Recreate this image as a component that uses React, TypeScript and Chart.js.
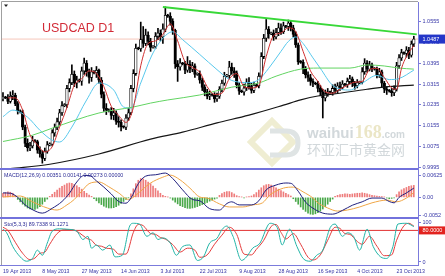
import { useEffect, useRef } from 'react';
import { Chart, registerables } from 'chart.js';

Chart.register(...registerables);

const FONT = "'Liberation Sans', Arial, sans-serif";

// ---------------- data ----------------
const opens = [
  1.0258, 1.0265, 1.0262, 1.0248, 1.0268, 1.0272, 1.0240, 1.0212, 1.0208, 1.0150, 1.0088, 1.0070,
  1.0078, 1.0098, 1.0095, 1.0062, 1.0048, 1.0030, 1.0058, 1.0082, 1.0085, 1.0128, 1.0148, 1.0170,
  1.0205, 1.0232, 1.0236, 1.0298, 1.0320, 1.0352, 1.0318, 1.0330, 1.0326, 1.0365, 1.0395, 1.0360,
  1.0340, 1.0362, 1.0358, 1.0368, 1.0330, 1.0275, 1.0222, 1.0215, 1.0212, 1.0195, 1.0205, 1.0172,
  1.0168, 1.0152, 1.0150, 1.0185, 1.0205, 1.0298, 1.0355, 1.0452, 1.0450, 1.0485, 1.0470, 1.0502,
  1.0478, 1.0455, 1.0458, 1.0498, 1.0510, 1.0495, 1.0525, 1.0578, 1.0575, 1.0555, 1.0520, 1.0392,
  1.0380, 1.0395, 1.0392, 1.0368, 1.0390, 1.0372, 1.0385, 1.0352, 1.0355, 1.0330, 1.0302, 1.0285,
  1.0268, 1.0275, 1.0272, 1.0258, 1.0268, 1.0295, 1.0318, 1.0345, 1.0348, 1.0380, 1.0365, 1.0358,
  1.0312, 1.0288, 1.0285, 1.0300, 1.0322, 1.0305, 1.0290, 1.0310, 1.0308, 1.0345, 1.0420, 1.0490,
  1.0525, 1.0508, 1.0510, 1.0495, 1.0512, 1.0530, 1.0515, 1.0538, 1.0535, 1.0548, 1.0530, 1.0505,
  1.0465, 1.0400, 1.0398, 1.0372, 1.0350, 1.0340, 1.0325, 1.0318, 1.0315, 1.0298, 1.0285, 1.0262,
  1.0278, 1.0285, 1.0283, 1.0298, 1.0290, 1.0308, 1.0302, 1.0315, 1.0312, 1.0325, 1.0335, 1.0318,
  1.0308, 1.0320, 1.0322, 1.0362, 1.0395, 1.0372, 1.0388, 1.0375, 1.0372, 1.0350, 1.0362, 1.0318,
  1.0295, 1.0290, 1.0288, 1.0282, 1.0295, 1.0385, 1.0415, 1.0435, 1.0432, 1.0445, 1.0425, 1.0468,
];
const highs = [
  1.0282, 1.0268, 1.0275, 1.0285, 1.0290, 1.0280, 1.0248, 1.0216, 1.0215, 1.0158, 1.0105, 1.0092,
  1.0115, 1.0102, 1.0100, 1.0075, 1.0060, 1.0070, 1.0095, 1.0090, 1.0140, 1.0162, 1.0185, 1.0218,
  1.0248, 1.0240, 1.0310, 1.0335, 1.0388, 1.0365, 1.0345, 1.0334, 1.0380, 1.0414, 1.0405, 1.0372,
  1.0378, 1.0366, 1.0382, 1.0372, 1.0340, 1.0285, 1.0240, 1.0220, 1.0225, 1.0222, 1.0212, 1.0190,
  1.0178, 1.0155, 1.0198, 1.0222, 1.0310, 1.0370, 1.0468, 1.0456, 1.0552, 1.0535, 1.0525, 1.0515,
  1.0490, 1.0462, 1.0512, 1.0528, 1.0522, 1.0545, 1.0610, 1.0582, 1.0588, 1.0565, 1.0525, 1.0405,
  1.0412, 1.0398, 1.0402, 1.0420, 1.0405, 1.0398, 1.0392, 1.0358, 1.0365, 1.0338, 1.0312, 1.0295,
  1.0288, 1.0278, 1.0282, 1.0280, 1.0305, 1.0330, 1.0360, 1.0352, 1.0402, 1.0395, 1.0378, 1.0365,
  1.0320, 1.0292, 1.0315, 1.0335, 1.0340, 1.0318, 1.0322, 1.0314, 1.0358, 1.0435, 1.0505, 1.0562,
  1.0535, 1.0514, 1.0522, 1.0528, 1.0548, 1.0545, 1.0552, 1.0540, 1.0560, 1.0558, 1.0540, 1.0515,
  1.0472, 1.0405, 1.0408, 1.0382, 1.0362, 1.0352, 1.0335, 1.0322, 1.0325, 1.0310, 1.0295, 1.0292,
  1.0298, 1.0288, 1.0312, 1.0315, 1.0320, 1.0322, 1.0328, 1.0318, 1.0338, 1.0348, 1.0342, 1.0325,
  1.0332, 1.0326, 1.0378, 1.0412, 1.0405, 1.0402, 1.0395, 1.0378, 1.0380, 1.0375, 1.0368, 1.0325,
  1.0305, 1.0294, 1.0298, 1.0308, 1.0398, 1.0428, 1.0448, 1.0438, 1.0458, 1.0455, 1.0480, 1.0498,
];
const lows = [
  1.0250, 1.0259, 1.0240, 1.0242, 1.0255, 1.0232, 1.0200, 1.0204, 1.0140, 1.0075, 1.0058, 1.0060,
  1.0070, 1.0092, 1.0050, 1.0035, 1.0012, 1.0022, 1.0050, 1.0078, 1.0078, 1.0115, 1.0140, 1.0160,
  1.0195, 1.0228, 1.0225, 1.0285, 1.0312, 1.0305, 1.0300, 1.0322, 1.0310, 1.0352, 1.0345, 1.0318,
  1.0325, 1.0354, 1.0340, 1.0318, 1.0262, 1.0210, 1.0198, 1.0208, 1.0180, 1.0178, 1.0160, 1.0150,
  1.0135, 1.0146, 1.0140, 1.0175, 1.0198, 1.0285, 1.0348, 1.0446, 1.0440, 1.0455, 1.0462, 1.0465,
  1.0440, 1.0452, 1.0450, 1.0485, 1.0480, 1.0470, 1.0515, 1.0570, 1.0540, 1.0505, 1.0375, 1.0325,
  1.0368, 1.0388, 1.0355, 1.0360, 1.0358, 1.0362, 1.0340, 1.0348, 1.0318, 1.0290, 1.0270, 1.0258,
  1.0255, 1.0268, 1.0245, 1.0248, 1.0260, 1.0285, 1.0310, 1.0342, 1.0335, 1.0352, 1.0340, 1.0300,
  1.0275, 1.0282, 1.0272, 1.0290, 1.0295, 1.0280, 1.0282, 1.0304, 1.0300, 1.0338, 1.0412, 1.0478,
  1.0490, 1.0504, 1.0482, 1.0488, 1.0500, 1.0505, 1.0508, 1.0530, 1.0520, 1.0518, 1.0495, 1.0455,
  1.0390, 1.0394, 1.0355, 1.0338, 1.0325, 1.0310, 1.0305, 1.0312, 1.0285, 1.0270, 1.0185, 1.0250,
  1.0268, 1.0280, 1.0272, 1.0280, 1.0282, 1.0290, 1.0295, 1.0308, 1.0302, 1.0315, 1.0305, 1.0295,
  1.0300, 1.0316, 1.0315, 1.0352, 1.0360, 1.0365, 1.0362, 1.0368, 1.0338, 1.0340, 1.0305, 1.0282,
  1.0275, 1.0284, 1.0268, 1.0270, 1.0288, 1.0375, 1.0405, 1.0428, 1.0418, 1.0412, 1.0418, 1.0458,
];
const closes = [
  1.0265, 1.0262, 1.0248, 1.0268, 1.0272, 1.0240, 1.0212, 1.0208, 1.0150, 1.0088, 1.0070, 1.0078,
  1.0098, 1.0095, 1.0062, 1.0048, 1.0030, 1.0058, 1.0082, 1.0085, 1.0128, 1.0148, 1.0170, 1.0205,
  1.0232, 1.0236, 1.0298, 1.0320, 1.0352, 1.0318, 1.0330, 1.0326, 1.0365, 1.0395, 1.0360, 1.0340,
  1.0362, 1.0358, 1.0368, 1.0330, 1.0275, 1.0222, 1.0215, 1.0212, 1.0195, 1.0205, 1.0172, 1.0168,
  1.0152, 1.0150, 1.0185, 1.0205, 1.0298, 1.0355, 1.0452, 1.0450, 1.0485, 1.0470, 1.0502, 1.0478,
  1.0455, 1.0458, 1.0498, 1.0510, 1.0495, 1.0525, 1.0578, 1.0575, 1.0555, 1.0520, 1.0392, 1.0380,
  1.0395, 1.0392, 1.0368, 1.0390, 1.0372, 1.0385, 1.0352, 1.0355, 1.0330, 1.0302, 1.0285, 1.0268,
  1.0275, 1.0272, 1.0258, 1.0268, 1.0295, 1.0318, 1.0345, 1.0348, 1.0380, 1.0365, 1.0358, 1.0312,
  1.0288, 1.0285, 1.0300, 1.0322, 1.0305, 1.0290, 1.0310, 1.0308, 1.0345, 1.0420, 1.0490, 1.0525,
  1.0508, 1.0510, 1.0495, 1.0512, 1.0530, 1.0515, 1.0538, 1.0535, 1.0548, 1.0530, 1.0505, 1.0465,
  1.0400, 1.0398, 1.0372, 1.0350, 1.0340, 1.0325, 1.0318, 1.0315, 1.0298, 1.0285, 1.0262, 1.0278,
  1.0285, 1.0283, 1.0298, 1.0290, 1.0308, 1.0302, 1.0315, 1.0312, 1.0325, 1.0335, 1.0318, 1.0308,
  1.0320, 1.0322, 1.0362, 1.0395, 1.0372, 1.0388, 1.0375, 1.0372, 1.0350, 1.0362, 1.0318, 1.0295,
  1.0290, 1.0288, 1.0282, 1.0295, 1.0385, 1.0415, 1.0435, 1.0432, 1.0445, 1.0425, 1.0468, 1.0487,
];

type Pt = [number, number];

// moving averages: [bar index, price]
const maRed: Pt[] = [
  [2, 1.0262], [5, 1.0262], [8, 1.0215], [11, 1.0120], [14, 1.0082], [17, 1.0055], [20, 1.0075],
  [23, 1.0150], [26, 1.0225], [29, 1.0310], [32, 1.0335], [35, 1.0365], [38, 1.0355], [41, 1.0305],
  [44, 1.0230], [47, 1.0195], [50, 1.0168], [53, 1.0225], [56, 1.0385], [59, 1.0470], [62, 1.0480],
  [65, 1.0505], [68, 1.0545], [71, 1.0480], [74, 1.0400], [77, 1.0378], [80, 1.0360], [83, 1.0305],
  [86, 1.0275], [89, 1.0280], [92, 1.0335], [95, 1.0355], [98, 1.0305], [101, 1.0300], [104, 1.0310],
  [107, 1.0420], [110, 1.0500], [113, 1.0510], [116, 1.0530], [119, 1.0515], [122, 1.0440],
  [125, 1.0365], [128, 1.0325], [131, 1.0285], [134, 1.0280], [137, 1.0295], [140, 1.0310],
  [143, 1.0322], [146, 1.0325], [149, 1.0370], [152, 1.0375], [155, 1.0340], [158, 1.0300],
  [160, 1.0295], [162, 1.0375], [164, 1.0420], [167, 1.0462],
];
const maCyan: Pt[] = [
  [0, 1.0190], [4, 1.0215], [10, 1.0188], [15, 1.0138], [20, 1.0100], [23, 1.0093], [28, 1.0150],
  [34, 1.0254], [39, 1.0319], [45, 1.0292], [49, 1.0227], [52, 1.0223], [56, 1.0319], [61, 1.0434],
  [66, 1.0500], [69, 1.0515], [73, 1.0485], [80, 1.0428], [87, 1.0370], [92, 1.0333], [96, 1.0322],
  [100, 1.0320], [104, 1.0332], [108, 1.0375], [113, 1.0440], [116, 1.0478], [119, 1.0495],
  [122, 1.0470], [126, 1.0415], [129, 1.0375], [134, 1.0310], [141, 1.0292], [146, 1.0318],
  [152, 1.0348], [157, 1.0332], [161, 1.0336], [167, 1.0368],
];
const maGreen: Pt[] = [
  [0, 1.0095], [12, 1.0119], [20, 1.0146], [39, 1.0204], [53, 1.0227], [60, 1.0242], [67, 1.0254],
  [80, 1.0273], [93, 1.0303], [104, 1.0319], [111, 1.0345], [121, 1.0372], [128, 1.0376],
  [141, 1.0376], [148, 1.0388], [155, 1.0384], [161, 1.0376], [167, 1.0372],
];
const maBlack: Pt[] = [
  [3, 0.9991], [19, 1.0008], [39, 1.0047], [60, 1.0104], [73, 1.0131], [87, 1.0166], [100, 1.0196],
  [114, 1.0234], [121, 1.0254], [128, 1.0269], [134, 1.0276], [148, 1.0295], [155, 1.0303],
  [167, 1.0311],
];
const trendLine: Pt[] = [[65, 1.0610], [168.2, 1.0505]];
const lastPrice = 1.0487;

// MACD
const macdHist = [
  0.0012, 0.0014, 0.0016, 0.0015, 0.0012, 0.0006,
  -0.0006, -0.0013, -0.0020, -0.0026, -0.0031, -0.0034, -0.0036, -0.0035, -0.0032, -0.0027, -0.0020, -0.0012, -0.0005,
  0.0003, 0.0009, 0.0015, 0.0021, 0.0027, 0.0032, 0.0036, 0.0040, 0.0042, 0.0041, 0.0038, 0.0034, 0.0029, 0.0024, 0.0018, 0.0012, 0.0007, 0.0003,
  -0.0004, -0.0010, -0.0016, -0.0021, -0.0026, -0.0029, -0.0031, -0.0031, -0.0030, -0.0027, -0.0023, -0.0018, -0.0012, -0.0006, -0.0001,
  0.0010, 0.0025, 0.0040, 0.0050, 0.0055, 0.0054, 0.0050, 0.0045, 0.0040, 0.0033, 0.0026, 0.0019, 0.0012, 0.0006,
  0.0003, 0.0001, -0.0002,
  -0.0008, -0.0014, -0.0019, -0.0024, -0.0027, -0.0030, -0.0032, -0.0032, -0.0031, -0.0029, -0.0027, -0.0024, -0.0021, -0.0018, -0.0015, -0.0011, -0.0008, -0.0005, -0.0002,
  0.0006, 0.0011, 0.0015, 0.0017, 0.0017, 0.0014, 0.0010, 0.0005, 0.0002,
  0.0001, -0.0001, 0.0001, 0.0002, 0.0004,
  0.0008, 0.0014, 0.0021, 0.0028, 0.0034, 0.0037, 0.0038, 0.0036, 0.0032, 0.0028, 0.0024, 0.0020, 0.0016, 0.0012, 0.0008, 0.0004,
  -0.0004, -0.0012, -0.0020, -0.0028, -0.0035, -0.0041, -0.0046, -0.0049, -0.0050, -0.0048, -0.0045, -0.0040, -0.0034, -0.0027, -0.0020, -0.0012, -0.0005,
  0.0003, 0.0006, 0.0008, 0.0009, 0.0010, 0.0010, 0.0009, 0.0010, 0.0011, 0.0012, 0.0012, 0.0013, 0.0012, 0.0010, 0.0008, 0.0006, 0.0005, 0.0004, 0.0003, 0.0002, 0.0001,
  -0.0002, -0.0004, -0.0003, -0.0001,
  0.0008, 0.0016, 0.0022, 0.0026, 0.0029, 0.0032, 0.0034, 0.0035,
];
const macdMain: Pt[] = [
  [0, 0.0013], [3, 0.0012], [6, 0.0000], [9, -0.0022], [12, -0.0036], [16, -0.0046], [20, -0.0032],
  [24, -0.0012], [27, 0.0012], [30, 0.0045], [33, 0.0064], [35, 0.0064], [38, 0.0048], [41, 0.0030],
  [44, 0.0010], [47, -0.0012], [50, -0.0017], [52, -0.0002], [55, 0.0040], [58, 0.0062], [62, 0.0066],
  [66, 0.0071], [69, 0.0055], [73, 0.0022], [77, -0.0006], [80, -0.0010], [84, -0.0033], [88, -0.0037],
  [91, -0.0018], [93, -0.0013], [96, -0.0022], [101, -0.0022], [104, -0.0010], [107, 0.0022],
  [111, 0.0036], [115, 0.0042], [117, 0.0041], [120, 0.0018], [123, -0.0014], [127, -0.0036],
  [130, -0.0046], [134, -0.0049], [138, -0.0038], [142, -0.0023], [146, -0.0013], [150, -0.0002],
  [154, -0.0002], [157, -0.0012], [159, -0.0016], [161, 0.0000], [164, 0.0013], [167, 0.0027],
];
const macdSignal: Pt[] = [
  [0, 0.0001], [7, 0.0004], [12, -0.0013], [18, -0.0031], [22, -0.0037], [26, -0.0022], [29, -0.0006],
  [32, 0.0018], [35, 0.0040], [39, 0.0045], [43, 0.0031], [47, 0.0013], [51, -0.0006], [54, 0.0006],
  [57, 0.0025], [60, 0.0042], [65, 0.0059], [68, 0.0065], [72, 0.0051], [76, 0.0027], [80, 0.0001],
  [83, -0.0002], [88, -0.0019], [92, -0.0028], [97.5, -0.0028], [101.5, -0.0022], [105.5, -0.0016],
  [108.5, 0.0007], [114, 0.0027], [118, 0.0030], [122, 0.0016], [126, -0.0002], [128, -0.0016],
  [132, -0.0031], [136, -0.0040], [140, -0.0037], [145, -0.0028], [150, -0.0016], [156, -0.0008],
  [160, -0.0013], [164, -0.0002], [167, 0.0014],
];

// Stochastic
const stochMain: Pt[] = [
  [0, 83], [1.5, 74], [4, 39], [7, 13], [9.5, 2], [12, 9], [14, 30], [16, 17], [18, 48], [20, 78],
  [23, 84], [26, 83], [30, 78], [32.5, 57], [34.5, 65], [36, 35], [38, 43], [40.5, 30], [43.5, 43],
  [45.5, 13], [48.5, 17], [51.5, 91], [53, 98], [55.5, 96], [58.5, 65], [61, 74], [63, 57], [65, 61],
  [68, 48], [70.5, 17], [73, 39], [76, 43], [79, 4], [81.5, 13], [84, 48], [87, 60], [89, 82], [91, 91],
  [93.5, 65], [97, 4], [99, 13], [101.5, 35], [104.5, 48], [107.5, 91], [108.5, 98], [111.5, 87],
  [113.5, 43], [115.5, 74], [116.5, 83], [119.5, 39], [122, 9], [125, 2], [127.5, 17], [130, 30],
  [133, 87], [135, 96], [138, 65], [140, 74], [142.5, 65], [145, 30], [148, 83], [150.5, 39],
  [153.5, 13], [156, 9], [158.5, 39], [160.5, 96], [164, 98], [167, 89.7],
];
const stochSignal: Pt[] = [
  [0, 88], [2, 80], [5, 50], [8, 22], [11, 6], [13, 10], [15, 22], [17, 25], [19, 45], [22, 72],
  [25, 82], [28, 82], [31, 74], [34, 60], [36, 55], [38, 42], [40, 40], [42, 35], [45, 32], [47, 20],
  [50, 20], [53, 75], [55, 95], [57, 92], [60, 72], [62, 70], [64, 62], [66, 58], [69, 44], [72, 25],
  [75, 35], [78, 30], [80, 12], [83, 18], [86, 45], [89, 68], [92, 88], [95, 70], [98, 20], [101, 18],
  [103, 32], [106, 55], [109, 90], [111, 95], [113, 75], [115, 58], [118, 72], [121, 45], [124, 12],
  [126, 5], [129, 18], [132, 55], [135, 88], [137, 85], [139, 72], [141, 70], [144, 52], [146, 45],
  [149, 65], [152, 40], [155, 16], [158, 18], [160, 55], [163, 92], [165, 98], [167, 91.1],
];
const stochLevel = 80;

// ticks / labels
const dateTickIndex = [0, 16, 32, 48, 64, 80, 96, 112, 128, 144, 160];
const dateLabels = [
  '19 Apr 2013', '8 May 2013', '27 May 2013', '14 Jun 2013', '3 Jul 2013', '22 Jul 2013',
  '9 Aug 2013', '28 Aug 2013', '16 Sep 2013', '4 Oct 2013', '23 Oct 2013',
];
const priceTicks = [0.9995, 1.0075, 1.0155, 1.0235, 1.0315, 1.0395, 1.0475, 1.0555];
const macdTicks = [0.00625, 0, -0.0052];
const macdTickText = ['0.00625', '0.00', '-0.0052'];
const stochTicks = [100, 0];

const titleText = 'USDCAD D1';
const macdText = 'MACD(12,26,9) 0.00351 0.00141 0.00273 0.00000';
const stochText = 'Sto(5,3,3) 89.7338 91.1271';
const wmParts = ['waihui', '168', '.com'];
const wmCJK = '环亚汇市黄金网';

// ---------------- styling ----------------
const AXIS = '#7b7bdc';
const LABEL = '#3434a6';

const xy = (pts: Pt[]) => pts.map(([x, y]) => ({ x, y }));

function yAxis(weight: number, min: number, max: number, ticks: number[], fmt: (v: number, i: number) => string) {
  return {
    type: 'linear',
    position: 'right',
    stack: 'panes',
    stackWeight: weight,
    min,
    max,
    bounds: 'data',
    afterBuildTicks: (s: any) => {
      s.ticks = ticks.map((v) => ({ value: v }));
    },
    afterFit: (s: any) => {
      s.width = 27;
      s.paddingTop = 0;
      s.paddingBottom = 0;
    },
    ticks: {
      callback: (v: any, i: number) => fmt(Number(v), i),
      font: { family: FONT, size: 5.5 },
      color: LABEL,
      padding: 1.5,
      autoSkip: false,
    },
    grid: { display: true, drawOnChartArea: false, drawTicks: true, tickLength: 3, tickColor: AXIS, color: AXIS },
    border: { display: true, color: AXIS, width: 1 },
  };
}

const decor = {
  id: 'decor',
  beforeDatasetsDraw(chart: any) {
    const ctx = chart.ctx as CanvasRenderingContext2D;
    ctx.save();
    // logo
    ctx.lineWidth = 6;
    ctx.strokeStyle = '#efedd2';
    ctx.beginPath();
    ctx.moveTo(272, 121);
    ctx.lineTo(293, 142);
    ctx.lineTo(272, 163);
    ctx.lineTo(251, 142);
    ctx.closePath();
    ctx.stroke();
    ctx.strokeStyle = '#dfe4e4';
    ctx.lineWidth = 5;
    ctx.beginPath();
    ctx.moveTo(270, 131);
    ctx.lineTo(286, 131);
    ctx.quadraticCurveTo(298, 131, 298, 143);
    ctx.quadraticCurveTo(298, 155, 286, 155);
    ctx.lineTo(270, 155);
    ctx.stroke();
    // watermark text
    ctx.textBaseline = 'alphabetic';
    let x = 307;
    ctx.font = `bold 15px ${FONT}`;
    ctx.fillStyle = '#d2d8db';
    ctx.fillText(wmParts[0], x, 138);
    x += ctx.measureText(wmParts[0]).width + 1;
    ctx.font = `bold 18px 'Liberation Serif', serif`;
    ctx.fillStyle = '#ebe6c6';
    ctx.fillText(wmParts[1], x, 138);
    x += ctx.measureText(wmParts[1]).width;
    ctx.font = `bold 10px ${FONT}`;
    ctx.fillStyle = '#d2d8db';
    ctx.fillText(wmParts[2], x, 138);
    ctx.font = `14px 'Noto Sans CJK SC', sans-serif`;
    ctx.fillStyle = '#d2d8db';
    ctx.fillText(wmCJK, 307, 155);
    ctx.restore();
  },
  afterDraw(chart: any) {
    const ctx = chart.ctx as CanvasRenderingContext2D;
    const { chartArea, scales } = chart;
    ctx.save();
    // outer frame
    ctx.strokeStyle = '#a0a0a0';
    ctx.lineWidth = 1;
    ctx.beginPath();
    ctx.moveTo(1.5, chartArea.bottom);
    ctx.lineTo(1.5, 1.5);
    ctx.lineTo(chartArea.right, 1.5);
    ctx.stroke();
    ctx.strokeStyle = AXIS;
    ctx.beginPath();
    ctx.moveTo(0, chartArea.bottom + 0.5);
    ctx.lineTo(chartArea.right, chartArea.bottom + 0.5);
    ctx.stroke();
    // pane separators
    ctx.strokeStyle = '#7272dc';
    ctx.lineWidth = 2;
    [scales.y.bottom, scales.yMacd.bottom].forEach((yy: number) => {
      ctx.beginPath();
      ctx.moveTo(0, yy);
      ctx.lineTo(chartArea.right, yy);
      ctx.stroke();
    });
    // one-click arrow
    ctx.fillStyle = '#202020';
    ctx.beginPath();
    ctx.moveTo(4, 4.5);
    ctx.lineTo(8, 4.5);
    ctx.lineTo(6, 7);
    ctx.closePath();
    ctx.fill();
    // title
    ctx.fillStyle = '#d22a36';
    ctx.font = `12.5px ${FONT}`;
    ctx.textBaseline = 'alphabetic';
    ctx.textAlign = 'left';
    ctx.fillText(titleText, 42, 31.5);
    // pane texts
    ctx.fillStyle = '#2b2b95';
    ctx.font = `5.3px ${FONT}`;
    ctx.textBaseline = 'middle';
    ctx.fillText(macdText, 4, scales.yMacd.top + 6.5);
    ctx.fillText(stochText, 4, scales.yStoch.top + 6.3);
    // last price box
    const py = scales.y.getPixelForValue(lastPrice);
    ctx.fillStyle = '#2436c8';
    ctx.fillRect(chartArea.right + 1, py - 4.5, 26, 9);
    ctx.fillStyle = '#ffffff';
    ctx.font = `5.5px ${FONT}`;
    ctx.fillText(lastPrice.toFixed(4), chartArea.right + 4.5, py);
    // stochastic level box
    const sy = scales.yStoch.getPixelForValue(stochLevel);
    ctx.fillStyle = '#e2231e';
    ctx.fillRect(chartArea.right + 1, sy - 4, 26, 8);
    ctx.fillStyle = '#ffffff';
    ctx.fillText(stochLevel.toFixed(4), chartArea.right + 4.5, sy);
    ctx.restore();
  },
};

function lineDs(pts: Pt[], color: string, axis: string, width = 1, order = 1) {
  return {
    type: 'line',
    data: xy(pts),
    borderColor: color,
    borderWidth: width,
    pointRadius: 0,
    cubicInterpolationMode: 'monotone',
    fill: false,
    yAxisID: axis,
    xAxisID: 'x',
    order,
  };
}

export default function App() {
  const ref = useRef<HTMLCanvasElement>(null);

  useEffect(() => {
    const canvas = ref.current;
    if (!canvas) return;
    const xMin = -0.4;
    const xMax = 168.7;

    const datasets: any[] = [
      {
        type: 'line',
        data: [{ x: xMin, y: lastPrice }, { x: xMax, y: lastPrice }],
        borderColor: '#f6c6bb',
        borderWidth: 1,
        pointRadius: 0,
        yAxisID: 'y',
        order: 9,
      },
      {
        type: 'bar',
        data: highs.map((h, i) => ({ x: i, y: [lows[i], h] })),
        backgroundColor: '#000000',
        barThickness: 1,
        grouped: false,
        yAxisID: 'y',
        order: 7,
      },
      {
        type: 'bar',
        data: opens.map((o, i) => ({ x: i, y: [o, closes[i]] })),
        backgroundColor: opens.map((o, i) => (closes[i] >= o ? '#ffffff' : '#000000')),
        borderColor: '#000000',
        borderWidth: 0.8,
        borderSkipped: false,
        barThickness: 2.6,
        minBarLength: 1,
        grouped: false,
        yAxisID: 'y',
        order: 6,
      },
      lineDs(maBlack, '#161616', 'y', 1.2, 2),
      lineDs(maGreen, '#62d462', 'y', 1, 2),
      lineDs(maCyan, '#58c8ec', 'y', 1, 2),
      lineDs(maRed, '#d03030', 'y', 1, 1),
      { ...lineDs(trendLine, '#38d838', 'y', 2, 0), cubicInterpolationMode: 'default', tension: 0 },
      {
        type: 'bar',
        data: macdHist.map((v, i) => ({ x: i, y: v })),
        backgroundColor: macdHist.map((v) => (v >= 0 ? '#ee7c7c' : '#4aa84a')),
        barThickness: 1,
        grouped: false,
        yAxisID: 'yMacd',
        order: 6,
      },
      lineDs(macdSignal, '#f0a646', 'yMacd', 1, 2),
      lineDs(macdMain, '#20207e', 'yMacd', 1, 1),
      {
        type: 'line',
        data: [{ x: xMin, y: stochLevel }, { x: xMax, y: stochLevel }],
        borderColor: '#e23030',
        borderWidth: 1,
        pointRadius: 0,
        yAxisID: 'yStoch',
        order: 5,
      },
      lineDs(stochSignal, '#e43c3c', 'yStoch', 1, 2),
      lineDs(stochMain, '#22b4a6', 'yStoch', 1, 1),
    ];

    const chart = new Chart(canvas, {
      type: 'bar',
      data: { datasets },
      options: {
        responsive: false,
        maintainAspectRatio: false,
        animation: false,
        devicePixelRatio: 1,
        events: [],
        layout: { padding: { left: 2, top: 2, right: 0, bottom: 0 } },
        plugins: { legend: { display: false }, tooltip: { enabled: false }, title: { display: false } },
        scales: {
          x: {
            type: 'linear',
            offset: false,
            min: xMin,
            max: xMax,
            bounds: 'data',
            afterBuildTicks: (s: any) => {
              s.ticks = dateTickIndex.map((v) => ({ value: v }));
            },
            afterFit: (s: any) => {
              s.height = 11;
              s.paddingLeft = 0;
              s.paddingRight = 0;
            },
            ticks: {
              callback: (_v: any, i: number) => dateLabels[i],
              autoSkip: false,
              maxRotation: 0,
              minRotation: 0,
              align: 'start',
              padding: 3,
              font: { family: FONT, size: 5.2 },
              color: LABEL,
            },
            grid: { display: false, drawTicks: false, tickLength: 0, offset: false },
            border: { display: false },
          },
          y: yAxis(167, 0.99897, 1.06289, priceTicks, (v) => v.toFixed(4)),
          yMacd: yAxis(49, -0.006025, 0.008286, macdTicks, (_v, i) => macdTickText[i]),
          yStoch: yAxis(47, -7.6, 111.4, stochTicks, (v) => String(v)),
        } as any,
      } as any,
      plugins: [decor as any],
    } as any);

    return () => chart.destroy();
  }, []);

  return (
    <div style={{ position: 'fixed', left: 0, top: 0, width: 445, height: 276, background: '#ffffff' }}>
      <canvas ref={ref} width={445} height={276} style={{ display: 'block', width: 445, height: 276 }} />
    </div>
  );
}
